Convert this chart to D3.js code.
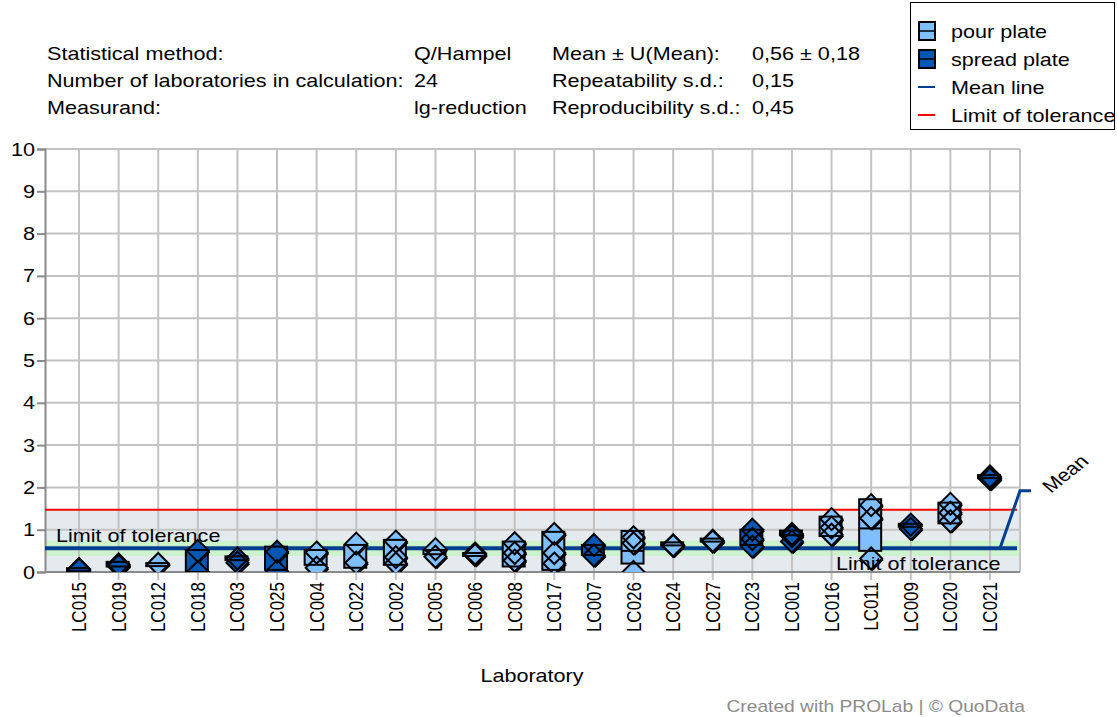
<!DOCTYPE html>
<html>
<head>
<meta charset="utf-8">
<script src="https://cdn.jsdelivr.net/npm/d3@7/dist/d3.min.js"></script>
<style>
  html, body { margin: 0; padding: 0; background: #fff; }
  text { font-family: "Liberation Sans", Arial, sans-serif; }
</style>
</head>
<body>
<svg id="chart" width="1117" height="717"></svg>
<script>
// ---- data ----
const labs = ['LC015', 'LC019', 'LC012', 'LC018', 'LC003', 'LC025', 'LC004', 'LC022', 'LC002', 'LC005', 'LC006', 'LC008',
  'LC017', 'LC007', 'LC026', 'LC024', 'LC027', 'LC023', 'LC001', 'LC016', 'LC011', 'LC009', 'LC020', 'LC021']
const labSeries = ['spread', 'spread', 'pour', 'spread', 'spread', 'spread', 'pour', 'pour', 'pour', 'pour', 'pour', 'pour',
  'pour', 'spread', 'pour', 'pour', 'pour', 'spread', 'spread', 'pour', 'pour', 'spread', 'pour', 'spread']
const replicates = [
  [0.07, 0.06], [0.18, 0.14], [0.19], [0.5, 0.0], [0.32, 0.22], [0.48, 0.02],
  [0.46, 0.1], [0.67, 0.22], [0.72, 0.35, 0.2], [0.54, 0.36], [0.44, 0.4], [0.68, 0.45, 0.27],
  [0.9, 0.45, 0.2], [0.64, 0.39], [0.82, 0.68, 0.0], [0.63, 0.62], [0.72, 0.74], [1.0, 0.78, 0.6],
  [0.9, 0.85, 0.72], [1.25, 1.05, 0.88], [1.58, 1.27, 0.32], [1.12, 1.02], [1.61, 1.4, 1.2], [2.26, 2.2]
]
const boxLow = [0.06, 0.13, 0.18, 0.0, 0.28, 0.05, 0.17, 0.1, 0.17, 0.42, 0.42, 0.13,
  0.05, 0.4, 0.2, 0.66, 0.74, 0.64, 0.87, 0.85, 0.5, 1.08, 1.15, 2.24]
const boxHigh = [0.09, 0.24, 0.21, 0.52, 0.37, 0.6, 0.52, 0.64, 0.76, 0.52, 0.45, 0.72,
  0.95, 0.64, 0.97, 0.7, 0.79, 1.0, 0.98, 1.31, 1.72, 1.14, 1.64, 2.29]
const boxMid = [null, null, null, null, null, null, null, null, null, null, null, null,
  null, null, 0.5, null, null, null, null, null, 1.03, null, null, null]

const yTicks = [0, 1, 2, 3, 4, 5, 6, 7, 8, 9, 10]
const meanValue = 0.56
const meanU = 0.18
const upperLimit = 1.47
const lowerLimit = 0

const infoLeft = [['Statistical method:', 'Q/Hampel'], ['Number of laboratories in calculation:', '24'], ['Measurand:', 'lg-reduction']]
const infoRight = [['Mean ± U(Mean):', '0,56 ± 0,18'], ['Repeatability s.d.:', '0,15'], ['Reproducibility s.d.:', '0,45']]

const seriesColor = { pour: '#80bfff', spread: '#0058b4' }
const legendItems = [
  { label: 'pour plate', type: 'box', color: seriesColor.pour },
  { label: 'spread plate', type: 'box', color: seriesColor.spread },
  { label: 'Mean line', type: 'line', color: '#003f8f' },
  { label: 'Limit of tolerance', type: 'line', color: '#ff0000' }
]

// ---- layout ----
const plot = { left: 45, right: 1020, top: 149, bottom: 572 }
const stretch = 1.2   // glyphs in the original are drawn wider than they are tall
const svg = d3.select('#chart')

const x = d3.scalePoint().domain(labs).range([79, 990])
const y = d3.scaleLinear().domain([0, 10]).range([plot.bottom, plot.top])

// text helper: positioned via transform so it can be widened
function label(g, tx, ty, str, size, extra = '') {
  return g.append('text')
    .attr('transform', `translate(${tx},${ty}) scale(${stretch},1) ${extra}`)
    .attr('font-size', size)
    .text(str)
}

svg.append('defs').append('clipPath').attr('id', 'plotClip')
  .append('rect')
  .attr('x', plot.left).attr('y', plot.top)
  .attr('width', plot.right - plot.left).attr('height', plot.bottom - plot.top)

// header block
const header = svg.append('g').attr('fill', '#000')
infoLeft.forEach((row, i) => {
  label(header, 47, 60 + i * 27, row[0], 18)
  label(header, 414, 60 + i * 27, row[1], 18)
})
infoRight.forEach((row, i) => {
  label(header, 552, 60 + i * 27, row[0], 18)
  label(header, 752, 60 + i * 27, row[1], 18)
})

// legend
const legend = svg.append('g')
legend.append('rect')
  .attr('x', 910.5).attr('y', 2.5).attr('width', 204).attr('height', 127)
  .attr('fill', '#fff').attr('stroke', '#000').attr('stroke-width', 1)
legendItems.forEach((item, i) => {
  const cy = 31 + i * 28
  if (item.type === 'box') {
    legend.append('rect')
      .attr('x', 919).attr('y', cy - 9).attr('width', 16).attr('height', 18)
      .attr('fill', item.color).attr('stroke', '#000').attr('stroke-width', 2)
    legend.append('line')
      .attr('x1', 919).attr('x2', 935).attr('y1', cy).attr('y2', cy)
      .attr('stroke', '#000').attr('stroke-width', 1.5)
  } else {
    legend.append('line')
      .attr('x1', 918).attr('x2', 935).attr('y1', cy).attr('y2', cy)
      .attr('stroke', item.color).attr('stroke-width', 2)
  }
  label(legend, 951, cy + 7, item.label, 18)
})

// bands
const bg = svg.append('g').attr('clip-path', 'url(#plotClip)')
bg.append('rect')
  .attr('x', plot.left).attr('width', plot.right - plot.left)
  .attr('y', y(upperLimit)).attr('height', y(lowerLimit) - y(upperLimit))
  .attr('fill', '#e4eaee')
bg.append('rect')
  .attr('x', plot.left).attr('width', plot.right - plot.left)
  .attr('y', y(meanValue + meanU)).attr('height', y(meanValue - meanU) - y(meanValue + meanU))
  .attr('fill', '#cdf3cd')

// grid
const grid = svg.append('g').attr('stroke', '#c3c3c3').attr('stroke-width', 2)
grid.selectAll('line.h').data(yTicks).join('line')
  .attr('class', 'h')
  .attr('x1', plot.left).attr('x2', plot.right)
  .attr('y1', d => y(d)).attr('y2', d => y(d))
grid.selectAll('line.v').data(labs).join('line')
  .attr('class', 'v')
  .attr('x1', d => x(d)).attr('x2', d => x(d))
  .attr('y1', plot.top).attr('y2', plot.bottom + 8)
grid.append('line')
  .attr('x1', plot.right).attr('x2', plot.right)
  .attr('y1', plot.top).attr('y2', plot.bottom)

// y axis
const yAxis = svg.append('g')
  .attr('transform', `translate(${plot.left},0)`)
  .call(d3.axisLeft(y).tickValues(yTicks).tickSize(8).tickFormat(''))
yAxis.select('.domain').attr('stroke', '#8a8a8a').attr('stroke-width', 2)
yAxis.selectAll('.tick line').attr('stroke', '#8a8a8a').attr('stroke-width', 2)
const yLabels = svg.append('g')
yTicks.forEach(t => {
  label(yLabels, 35, y(t) + 6.5, d3.format('d')(t), 18).attr('text-anchor', 'end')
})

svg.append('line')
  .attr('x1', plot.left).attr('x2', plot.right)
  .attr('y1', plot.bottom).attr('y2', plot.bottom)
  .attr('stroke', '#8a8a8a').attr('stroke-width', 2)

// x labels
const xLabels = svg.append('g')
labs.forEach(lab => {
  label(xLabels, x(lab) + 7, plot.bottom + 10, lab, 17, 'rotate(-90)').attr('text-anchor', 'end')
})

label(svg, 532, 682, 'Laboratory', 18).attr('text-anchor', 'middle')
label(svg, 1025, 712, 'Created with PROLab | © QuoData', 16).attr('text-anchor', 'end').attr('fill', '#8c8c8c')

// limit + mean lines
const lines = svg.append('g')
lines.append('line')
  .attr('x1', plot.left).attr('x2', plot.right - 3)
  .attr('y1', y(upperLimit)).attr('y2', y(upperLimit))
  .attr('stroke', '#ff0000').attr('stroke-width', 2)
lines.append('line')
  .attr('x1', plot.left).attr('x2', plot.right - 3)
  .attr('y1', y(meanValue)).attr('y2', y(meanValue))
  .attr('stroke', '#003f8f').attr('stroke-width', 4)
lines.append('path')
  .attr('d', `M${plot.right - 20},${y(meanValue)} L${plot.right},${y(1.92)} L${plot.right + 11},${y(1.92)}`)
  .attr('fill', 'none').attr('stroke', '#003f8f').attr('stroke-width', 3)
label(lines, 1051, y(1.85), 'Mean', 18, 'rotate(-44)')

label(lines, 56, y(meanValue) - 6, 'Limit of tolerance', 18)

// marks
const diamond = (cx, cy, r) => `M${cx},${cy - r} L${cx + r},${cy} L${cx},${cy + r} L${cx - r},${cy} Z`
const marks = svg.append('g').attr('clip-path', 'url(#plotClip)')
const labData = labs.map((lab, i) => ({
  lab, series: labSeries[i], values: replicates[i], lo: boxLow[i], hi: boxHigh[i], mid: boxMid[i]
}))

const fills = marks.append('g')
const outlines = marks.append('g').attr('fill', 'none').attr('stroke', '#000').attr('stroke-width', 2)

labData.forEach(d => {
  const cx = x(d.lab)
  const color = seriesColor[d.series]
  const bh = Math.max(y(d.lo) - y(d.hi), 3)
  fills.append('rect')
    .attr('x', cx - 12).attr('y', y(d.hi)).attr('width', 22).attr('height', bh)
    .attr('fill', color)
  outlines.append('rect')
    .attr('x', cx - 12).attr('y', y(d.hi)).attr('width', 22).attr('height', bh)
  if (d.mid != null) {
    outlines.append('line')
      .attr('x1', cx - 12).attr('x2', cx + 10).attr('y1', y(d.mid)).attr('y2', y(d.mid))
  }
  d.values.forEach(v => {
    fills.append('path').attr('d', diamond(cx + 1.5, y(v) + 1.5, 11)).attr('fill', '#000')
    fills.append('path').attr('d', diamond(cx, y(v), 11)).attr('fill', color)
    outlines.append('path').attr('d', diamond(cx, y(v), 11))
  })
})

label(svg, 836, 570, 'Limit of tolerance', 18)
</script>
</body>
</html>
